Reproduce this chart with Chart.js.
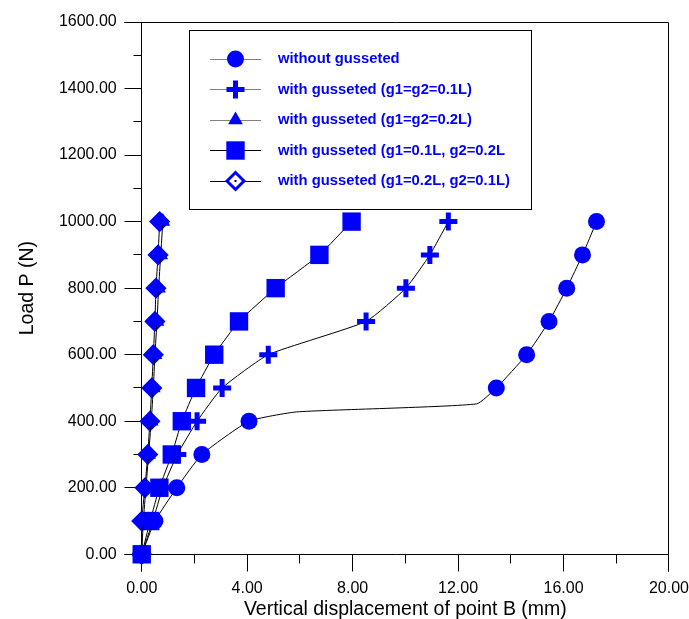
<!DOCTYPE html>
<html>
<head>
<meta charset="utf-8">
<script src="https://cdn.jsdelivr.net/npm/chart.js@4.4.1/dist/chart.umd.min.js"></script>
<style>
  html, body { margin: 0; padding: 0; background: #fff; }
  #wrap { width: 689px; height: 619px; }
</style>
</head>
<body>
<div id="wrap"><canvas id="chart"></canvas></div>
<script>
const loads = [0, 100, 200, 300, 400, 500, 600, 700, 800, 900, 1000];

// without gusseted: two bends without markers between 400 and 500 N
const circleX = [0, 0.5, 1.33, 2.28, 4.07, 5.88, 12.7, 13.45, 14.6, 15.45, 16.12, 16.72, 17.25];
const circleP = [0, 100, 200, 300, 400, 428, 452, 500, 600, 700, 800, 900, 1000];
const circleMarked = [1, 1, 1, 1, 1, 0, 0, 1, 1, 1, 1, 1, 1];

const plusX = [0, 0.42, 0.8, 1.35, 2.1, 3.05, 4.8, 8.51, 10.02, 10.93, 11.63];
const triangleX = [0, 0.06, 0.16, 0.26, 0.36, 0.44, 0.5, 0.58, 0.64, 0.72, 0.8];
const squareX = [0, 0.32, 0.67, 1.14, 1.52, 2.06, 2.75, 3.69, 5.08, 6.74, 7.96];
const diamondX = [0, 0.0, 0.12, 0.23, 0.31, 0.38, 0.44, 0.5, 0.54, 0.62, 0.68];

const seriesNames = [
    'without gusseted',
    'with gusseted (g1=g2=0.1L)',
    'with gusseted (g1=g2=0.2L)',
    'with gusseted (g1=0.1L, g2=0.2L',
    'with gusseted (g1=0.2L, g2=0.1L)'
];

const xTickValues = [0, 4, 8, 12, 16, 20];
const xMinorValues = [2, 6, 10, 14, 18];
const yTickValues = [0, 200, 400, 600, 800, 1000, 1200, 1400, 1600];
const yMinorValues = [100, 300, 500, 700, 900, 1100, 1300, 1500];

const blue = '#0000ff';

function toPoints(xs, ps) {
    return xs.map((x, i) => ({ x: x, y: ps[i] }));
}

function crisp(v) {
    return Math.round(v - 0.5) + 0.5;
}

const common = {
    showLine: true,
    borderColor: '#000',
    borderWidth: 1,
    tension: 0.15,
    clip: false,
    pointBackgroundColor: blue,
    pointBorderColor: blue,
    pointBorderWidth: 0
};

const datasets = [
    Object.assign({}, common, {
        label: seriesNames[0],
        data: toPoints(circleX, circleP),
        pointStyle: 'circle',
        pointRadius: ctx => circleMarked[ctx.dataIndex] ? 8.5 : 0
    }),
    Object.assign({}, common, {
        label: seriesNames[1],
        data: toPoints(plusX, loads),
        pointStyle: 'cross',
        pointRadius: 9,
        pointBorderWidth: 5
    }),
    Object.assign({}, common, {
        label: seriesNames[2],
        data: toPoints(triangleX, loads),
        pointStyle: 'triangle',
        pointRadius: 8.5
    }),
    Object.assign({}, common, {
        label: seriesNames[3],
        data: toPoints(squareX, loads),
        pointStyle: 'rect',
        pointRadius: 13
    }),
    Object.assign({}, common, {
        label: seriesNames[4],
        data: toPoints(diamondX, loads),
        pointStyle: 'rectRot',
        pointRadius: 8.5,
        pointBorderWidth: 3
    })
];

// frame around the plot with outward tick marks
const framePlugin = {
    id: 'frame',
    beforeDatasetsDraw(chart) {
        const ctx = chart.ctx;
        const xs = chart.scales.x, ys = chart.scales.y;
        const left = crisp(xs.getPixelForValue(0));
        const right = crisp(xs.getPixelForValue(20));
        const bottom = crisp(ys.getPixelForValue(0));
        const top = crisp(ys.getPixelForValue(1600));
        ctx.save();
        ctx.strokeStyle = '#000';
        ctx.lineWidth = 1;
        ctx.beginPath();
        ctx.moveTo(left - 17, top); ctx.lineTo(right, top);
        ctx.moveTo(left - 17, bottom); ctx.lineTo(right, bottom);
        ctx.moveTo(left, top); ctx.lineTo(left, bottom + 17);
        ctx.moveTo(right, top); ctx.lineTo(right, bottom + 17);
        yTickValues.forEach(v => {
            const p = crisp(ys.getPixelForValue(v));
            ctx.moveTo(left - 17, p); ctx.lineTo(left, p);
        });
        yMinorValues.forEach(v => {
            const p = crisp(ys.getPixelForValue(v));
            ctx.moveTo(left - 8, p); ctx.lineTo(left, p);
        });
        xTickValues.forEach(v => {
            const p = crisp(xs.getPixelForValue(v));
            ctx.moveTo(p, bottom); ctx.lineTo(p, bottom + 17);
        });
        xMinorValues.forEach(v => {
            const p = crisp(xs.getPixelForValue(v));
            ctx.moveTo(p, bottom); ctx.lineTo(p, bottom + 9);
        });
        ctx.stroke();
        ctx.restore();
    }
};

// boxed legend with line + marker samples
const boxLegendPlugin = {
    id: 'boxLegend',
    afterDraw(chart) {
        const ctx = chart.ctx;
        const box = { left: 189, top: 30, right: 531, bottom: 209 };
        const sampleColors = ['#808080', '#808080', '#808080', '#000', '#000'];
        ctx.save();
        ctx.fillStyle = '#fff';
        ctx.fillRect(box.left, box.top, box.right - box.left, box.bottom - box.top);
        ctx.strokeStyle = '#000';
        ctx.lineWidth = 1;
        ctx.strokeRect(box.left + 0.5, box.top + 0.5, box.right - box.left, box.bottom - box.top);

        chart.data.datasets.forEach((ds, i) => {
            const rowY = box.top + 29 + i * 30.5;
            ctx.strokeStyle = sampleColors[i];
            ctx.lineWidth = 1;
            ctx.beginPath();
            ctx.moveTo(210, crisp(rowY));
            ctx.lineTo(261, crisp(rowY));
            ctx.stroke();

            const radius = typeof ds.pointRadius === 'function' ? 8.5 : ds.pointRadius;
            // the legend diamond is shown open (white inside)
            ctx.fillStyle = ds.pointStyle === 'rectRot' ? '#fff' : ds.pointBackgroundColor;
            ctx.strokeStyle = ds.pointBorderColor;
            ctx.lineWidth = ds.pointBorderWidth;
            Chart.helpers.drawPoint(ctx, {
                pointStyle: ds.pointStyle,
                radius: radius,
                rotation: 0,
                borderWidth: ds.pointBorderWidth
            }, 235.5, rowY);
            if (ds.pointStyle === 'rectRot') {
                ctx.fillStyle = '#000';
                ctx.fillRect(234.5, rowY - 1, 2, 2);
            }

            ctx.fillStyle = blue;
            ctx.font = 'bold 14.8px "Liberation Sans", Arial, sans-serif';
            ctx.textBaseline = 'middle';
            ctx.textAlign = 'left';
            ctx.fillText(ds.label, 278, rowY);
        });
        ctx.restore();
    }
};

Chart.defaults.font.family = '"Liberation Sans", Arial, sans-serif';
Chart.defaults.color = '#000';

new Chart(document.getElementById('chart'), {
    type: 'scatter',
    data: { datasets: datasets },
    plugins: [framePlugin, boxLegendPlugin],
    options: {
        responsive: true,
        maintainAspectRatio: false,
        animation: false,
        events: [],
        layout: { padding: { top: 22, left: 0, right: 0, bottom: 0 } },
        plugins: {
            legend: { display: false },
            tooltip: { enabled: false }
        },
        scales: {
            x: {
                type: 'linear',
                min: 0,
                max: 20,
                // ticks are drawn by framePlugin; tickLength only reserves room
                grid: { display: false, drawTicks: true, tickLength: 26.6 },
                border: { display: false },
                afterBuildTicks: scale => { scale.ticks = xTickValues.map(v => ({ value: v })); },
                ticks: {
                    padding: 0,
                    autoSkip: false,
                    maxRotation: 0,
                    color: '#000',
                    font: { size: 16, lineHeight: 1 },
                    callback: v => Number(v).toFixed(2)
                },
                title: {
                    display: true,
                    text: 'Vertical displacement of point B (mm)',
                    color: '#000',
                    font: { size: 19.5, lineHeight: 1 },
                    padding: { top: 2.6, bottom: 0 }
                }
            },
            y: {
                type: 'linear',
                min: 0,
                max: 1600,
                grid: { display: false, drawTicks: true, tickLength: 17 },
                border: { display: false },
                afterBuildTicks: scale => { scale.ticks = yTickValues.map(v => ({ value: v })); },
                ticks: {
                    padding: 8,
                    autoSkip: false,
                    color: '#000',
                    font: { size: 16 },
                    callback: v => Number(v).toFixed(2)
                },
                title: {
                    display: true,
                    text: 'Load P (N)',
                    color: '#000',
                    font: { size: 19.5, lineHeight: 1 },
                    padding: { top: 18, bottom: 13.4 }
                }
            }
        }
    }
});
</script>
</body>
</html>
